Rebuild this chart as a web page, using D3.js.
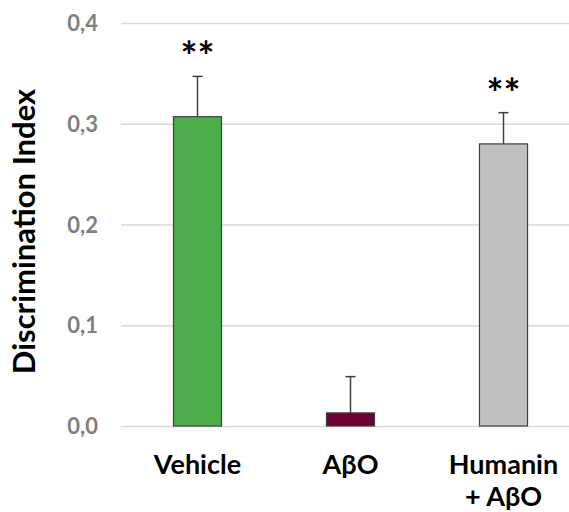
<!DOCTYPE html>
<html>
<head>
<meta charset="utf-8">
<script src="https://cdn.jsdelivr.net/npm/d3@7"></script>
<style>
  html, body { margin: 0; padding: 0; background: #fff; }
  svg { display: block; }
  text { font-family: Lato, "Open Sans", sans-serif; font-weight: bold; }
</style>
</head>
<body>
<svg id="chart" width="569" height="512"></svg>
<script>
const categories = ["Vehicle", "AβO", "Humanin\n+ AβO"];
const means = [0.307, 0.013, 0.280];
const errors = [0.040, 0.036, 0.031];
const significance = ["**", "", "**"];
const colors = ["#4cad4c", "#6b0034", "#c0c0c0"];
const yTicks = [0, 0.1, 0.2, 0.3, 0.4];
const yTitle = "Discrimination Index";

const svg = d3.select("#chart");
const W = 569, H = 512;
const x0 = 121, yTop = 23, yBottom = 426;

const y = d3.scaleLinear().domain([0, 0.4]).range([yBottom, yTop]);
const x = d3.scaleBand().domain(categories).range([x0, x0 + 459])
  .paddingInner(0.686).paddingOuter(0.343);

// gridlines + tick labels
const yAxis = d3.axisLeft(y).tickValues(yTicks)
  .tickFormat(d => d3.format(".1f")(d).replace(".", ","))
  .tickSize(-(W - x0)).tickPadding(23);
const gy = svg.append("g").attr("transform", `translate(${x0},0)`).call(yAxis);
gy.select(".domain").remove();
gy.selectAll(".tick line").attr("stroke", "#d9d9d9").attr("stroke-width", 1.5);
gy.selectAll(".tick text").attr("fill", "#7f7f7f").style("font-size", "22px")
  .attr("dy", "0.35em");

// error bars
const eb = svg.append("g");
categories.forEach((c, i) => {
  const cx = x(c) + x.bandwidth() / 2;
  eb.append("line").attr("x1", cx).attr("x2", cx)
    .attr("y1", y(means[i])).attr("y2", y(means[i] + errors[i]))
    .attr("stroke", "#404040").attr("stroke-width", 1.5);
  eb.append("line").attr("x1", cx - 5).attr("x2", cx + 5)
    .attr("y1", y(means[i] + errors[i])).attr("y2", y(means[i] + errors[i]))
    .attr("stroke", "#404040").attr("stroke-width", 1.5);
});

// bars
svg.append("g").selectAll("rect").data(categories).join("rect")
  .attr("x", d => x(d))
  .attr("y", (d, i) => y(means[i]))
  .attr("width", x.bandwidth())
  .attr("height", (d, i) => y(0) - y(means[i]))
  .attr("fill", (d, i) => colors[i])
  .attr("stroke", "#404040").attr("stroke-width", 1.2);

// significance
svg.append("g").selectAll("text").data(categories).join("text")
  .attr("x", d => x(d) + x.bandwidth() / 2)
  .attr("y", (d, i) => y(means[i] + errors[i]) - 5)
  .attr("text-anchor", "middle")
  .style("font-size", "40px").attr("fill", "#000")
  .text((d, i) => significance[i]);

// x labels
const xl = svg.append("g");
categories.forEach(c => {
  const lines = c.split("\n");
  const t = xl.append("text").attr("text-anchor", "middle")
    .attr("x", x(c) + x.bandwidth() / 2).attr("y", 474)
    .style("font-size", "27px").attr("fill", "#000");
  lines.forEach((ln, j) => {
    t.append("tspan").attr("x", x(c) + x.bandwidth() / 2)
      .attr("dy", j === 0 ? 0 : 32).text(ln);
  });
});

// y title
svg.append("text")
  .attr("transform", `translate(35,${(yTop + yBottom) / 2 + 7}) rotate(-90)`)
  .attr("text-anchor", "middle")
  .style("font-size", "31px").attr("fill", "#000")
  .text(yTitle);
</script>
</body>
</html>
